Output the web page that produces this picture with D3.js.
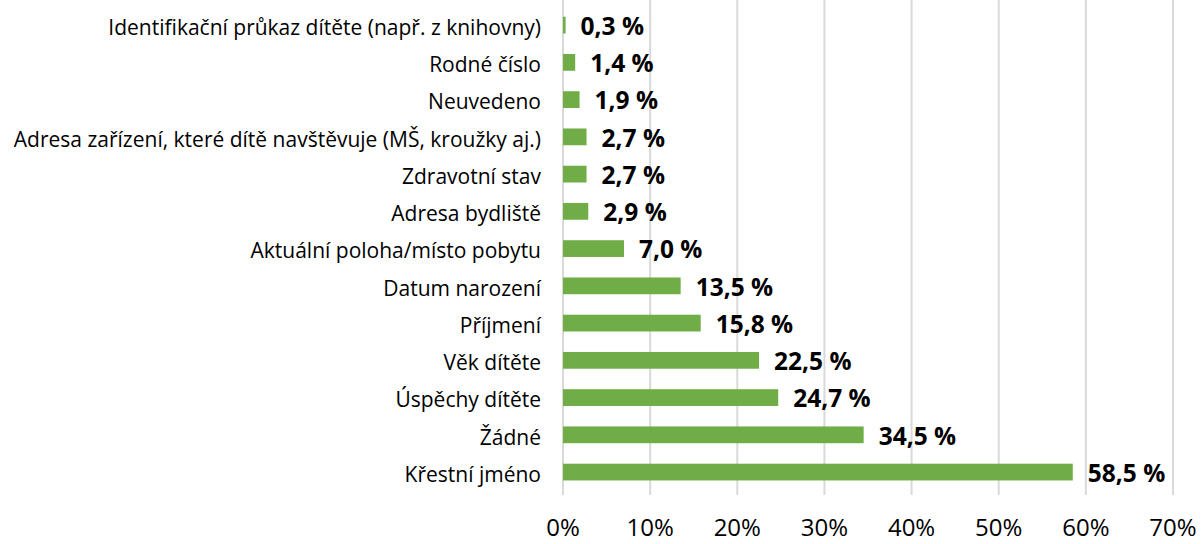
<!DOCTYPE html>
<html>
<head>
<meta charset="utf-8">
<script src="https://cdn.jsdelivr.net/npm/d3@7"></script>
<style>
  body { margin: 0; background: #fff; }
  text { font-family: "Open Sans", Lato, sans-serif; }
</style>
</head>
<body>
<div id="chart"></div>
<script>
const categories = [
  "Identifikační průkaz dítěte (např. z knihovny)",
  "Rodné číslo",
  "Neuvedeno",
  "Adresa zařízení, které dítě navštěvuje (MŠ, kroužky aj.)",
  "Zdravotní stav",
  "Adresa bydliště",
  "Aktuální poloha/místo pobytu",
  "Datum narození",
  "Příjmení",
  "Věk dítěte",
  "Úspěchy dítěte",
  "Žádné",
  "Křestní jméno"
];
const values = [0.3, 1.4, 1.9, 2.7, 2.7, 2.9, 7.0, 13.5, 15.8, 22.5, 24.7, 34.5, 58.5];
const ticks = [0, 10, 20, 30, 40, 50, 60, 70];

const W = 1201, H = 544;
const plot = { left: 563, right: 1173, top: 6.5, bottom: 490.7 };

const svg = d3.select("#chart").append("svg")
  .attr("width", W).attr("height", H);

const x = d3.scaleLinear().domain([0, 70]).range([plot.left, plot.right]);
const y = d3.scaleBand().domain(categories).range([plot.top, plot.bottom]).paddingInner(0.55).paddingOuter(0.275);

// gridlines
svg.append("g").selectAll("line").data(ticks).enter().append("line")
  .attr("x1", d => x(d)).attr("x2", d => x(d))
  .attr("y1", 0).attr("y2", 495)
  .attr("stroke", "#d9d9d9").attr("stroke-width", 2);

// x tick labels
svg.append("g").selectAll("text").data(ticks).enter().append("text")
  .attr("x", d => x(d)).attr("y", 536)
  .attr("text-anchor", "middle")
  .style("font-size", "24px").attr("fill", "#000")
  .text(d => d + "%");

// bars
svg.append("g").selectAll("rect").data(values).enter().append("rect")
  .attr("x", x(0))
  .attr("y", (d, i) => y(categories[i]))
  .attr("width", d => x(d) - x(0))
  .attr("height", y.bandwidth())
  .attr("fill", "#70ad47");

// category labels
svg.append("g").selectAll("text").data(categories).enter().append("text")
  .attr("x", 541)
  .attr("y", d => y(d) + y.bandwidth() / 2)
  .attr("dy", "0.47em")
  .attr("text-anchor", "end")
  .style("font-size", "21px").attr("fill", "#000")
  .text(d => d);

// value labels
svg.append("g").selectAll("text").data(values).enter().append("text")
  .attr("x", d => x(d) + 15)
  .attr("y", (d, i) => y(categories[i]) + y.bandwidth() / 2)
  .attr("dy", "0.4em")
  .style("font-size", "24.5px").style("font-weight", "bold").attr("fill", "#000")
  .text(d => d.toFixed(1).replace(".", ",") + " %");
</script>
</body>
</html>
